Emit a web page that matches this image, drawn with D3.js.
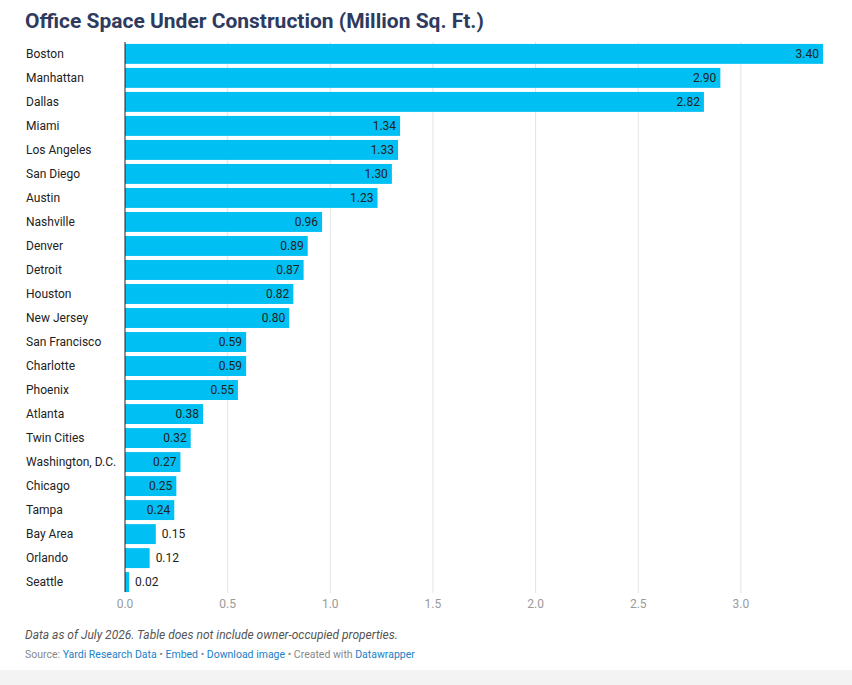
<!DOCTYPE html>
<html><head><meta charset="utf-8">
<script src="https://cdn.jsdelivr.net/npm/d3@7"></script>
<style>
body{margin:0;background:#fff;font-family:Roboto,sans-serif;}
</style></head>
<body><div id="chart"></div>
<script>
const cities = ["Boston","Manhattan","Dallas","Miami","Los Angeles","San Diego","Austin","Nashville","Denver","Detroit","Houston","New Jersey","San Francisco","Charlotte","Phoenix","Atlanta","Twin Cities","Washington, D.C.","Chicago","Tampa","Bay Area","Orlando","Seattle"];
const values = [3.40,2.90,2.82,1.34,1.33,1.30,1.23,0.96,0.89,0.87,0.82,0.80,0.59,0.59,0.55,0.38,0.32,0.27,0.25,0.24,0.15,0.12,0.02];
const ticks = [0,0.5,1,1.5,2,2.5,3];

const W = 852, H = 685;
const svg = d3.select("#chart").append("svg").attr("width", W).attr("height", H);

// faint grey band at the bottom like the screenshot
svg.append("rect").attr("x",0).attr("y",670).attr("width",W).attr("height",15).attr("fill","#f3f3f3");

svg.append("text").attr("x",25).attr("y",28)
  .attr("font-size",21).attr("font-weight",700).attr("fill","#2e3a5e")
  .text("Office Space Under Construction (Million Sq. Ft.)");

const x = d3.scaleLinear().domain([0,3.4]).range([125,823]);
const y = d3.scaleBand().domain(cities).range([42,594]).paddingInner(0.17).paddingOuter(0.08);

// gridlines
svg.append("g").selectAll("line").data(ticks.filter(t=>t>0)).enter().append("line")
  .attr("x1",d=>x(d)).attr("x2",d=>x(d)).attr("y1",42).attr("y2",593)
  .attr("stroke","#e3e3e3");

svg.append("g").selectAll("text").data(ticks).enter().append("text")
  .attr("x",d=>x(d)).attr("y",608).attr("text-anchor","middle")
  .attr("font-size",12).attr("fill","#9a9a9a").text(d=>d.toFixed(1));

// bars
svg.append("g").selectAll("rect").data(values).enter().append("rect")
  .attr("x",x(0)).attr("y",(d,i)=>y(cities[i]))
  .attr("width",d=>x(d)-x(0)).attr("height",y.bandwidth())
  .attr("fill","#00bff2");

// city labels
svg.append("g").selectAll("text").data(cities).enter().append("text")
  .attr("x",26).attr("y",d=>y(d)+y.bandwidth()/2+4)
  .attr("font-size",12).attr("fill","#222").text(d=>d);

// value labels
svg.append("g").selectAll("text").data(values).enter().append("text")
  .attr("x",d=> (x(d)-x(0) > 40) ? x(d)-4 : x(d)+6)
  .attr("text-anchor",d=> (x(d)-x(0) > 40) ? "end" : "start")
  .attr("y",(d,i)=>y(cities[i])+y.bandwidth()/2+4)
  .attr("font-size",12).attr("fill","#222").text(d=>d.toFixed(2));

// zero line
svg.append("line").attr("x1",x(0)).attr("x2",x(0)).attr("y1",42).attr("y2",592)
  .attr("stroke","#222").attr("stroke-width",1);

svg.append("text").attr("x",25).attr("y",639).attr("font-size",12)
  .attr("font-style","italic").attr("fill","#555")
  .text("Data as of July 2026. Table does not include owner-occupied properties.");

const src = svg.append("text").attr("x",25).attr("y",658).attr("font-size",10.5).attr("fill","#888");
src.append("tspan").text("Source: ");
src.append("tspan").attr("fill","#1a7fc8").text("Yardi Research Data");
src.append("tspan").text(" • ");
src.append("tspan").attr("fill","#1a7fc8").text("Embed");
src.append("tspan").text("  • ");
src.append("tspan").attr("fill","#1a7fc8").text("Download image");
src.append("tspan").text(" • Created with ");
src.append("tspan").attr("fill","#1a7fc8").text("Datawrapper");
</script></body></html>
